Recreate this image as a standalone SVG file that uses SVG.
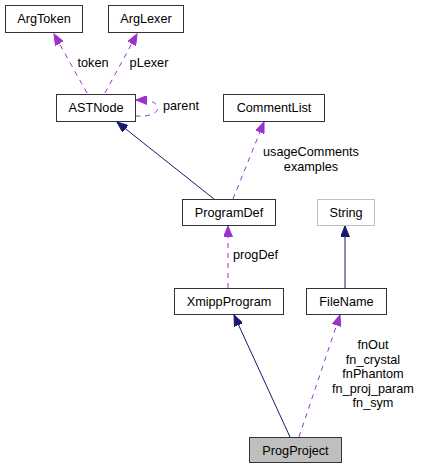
<svg xmlns="http://www.w3.org/2000/svg" width="421" height="468" viewBox="0 0 421 468">
<defs>
<style>
text{font-family:"Liberation Sans",Arial,sans-serif;font-size:12.7px;fill:#000}
.lbl{text-anchor:middle}
.box{fill:#fff;stroke:#333;stroke-width:1}
.dash{fill:none;stroke:#9a32cd;stroke-width:1;stroke-dasharray:5,5}
.inh{fill:none;stroke:#191970;stroke-width:1}
</style>
<marker id="ap" markerUnits="userSpaceOnUse" markerWidth="12" markerHeight="9" refX="11" refY="4.5" orient="auto" viewBox="0 0 12 9">
<path d="M0,0 L11,4.5 L0,9 z" fill="#9a32cd" stroke="#9a32cd"/>
</marker>
<marker id="ab" markerUnits="userSpaceOnUse" markerWidth="12" markerHeight="9" refX="11" refY="4.5" orient="auto" viewBox="0 0 12 9">
<path d="M0,0 L11,4.5 L0,9 z" fill="#191970" stroke="#191970"/>
</marker>
</defs>
<rect width="421" height="468" fill="#fff"/>
<g id="connectors">
<path class="dash" d="M87,93 L54,34" marker-end="url(#ap)"/>
<path class="dash" d="M105,93 L137,34" marker-end="url(#ap)"/>
<path class="dash" d="M135,116 C150,117 160,113 157,106 C155,101 148,100 136,100" marker-end="url(#ap)"/>
<path class="inh" d="M214,199 L117,122" marker-end="url(#ab)"/>
<path class="dash" d="M233,199 L264,122" marker-end="url(#ap)"/>
<path class="dash" d="M228,288 L228,226" marker-end="url(#ap)"/>
<path class="inh" d="M345,288 L345,226" marker-end="url(#ab)"/>
<path class="inh" d="M290,437 L234,315" marker-end="url(#ab)"/>
<path class="dash" d="M299,437 L340,315" marker-end="url(#ap)"/>
<text x="93" y="67" class="lbl">token</text>
<text x="149" y="67" class="lbl">pLexer</text>
<text x="163" y="110">parent</text>
<text x="311" y="156" class="lbl">usageComments</text>
<text x="311" y="171" class="lbl">examples</text>
<text x="233" y="259">progDef</text>
<text x="373" y="349" class="lbl">fnOut</text>
<text x="373" y="363.5" class="lbl">fn_crystal</text>
<text x="373" y="378" class="lbl">fnPhantom</text>
<text x="373" y="392.5" class="lbl">fn_proj_param</text>
<text x="373" y="407" class="lbl">fn_sym</text>
</g>
<g id="ArgToken"><rect class="box" x="5.5" y="5.5" width="77" height="27"/><text x="44" y="23" class="lbl">ArgToken</text></g>
<g id="ArgLexer"><rect class="box" x="108.5" y="5.5" width="75" height="27"/><text x="146" y="23" class="lbl">ArgLexer</text></g>
<g id="ASTNode"><rect class="box" x="56.5" y="94.5" width="79" height="27"/><text x="96" y="112" class="lbl">ASTNode</text></g>
<g id="CommentList"><rect class="box" x="223.5" y="94.5" width="101" height="27"/><text x="274" y="112" class="lbl">CommentList</text></g>
<g id="ProgramDef"><rect class="box" x="182.5" y="199.5" width="93" height="26"/><text x="229" y="217" class="lbl">ProgramDef</text></g>
<g id="String"><rect x="317.5" y="199.5" width="57" height="26" fill="#fff" stroke="#bfbfbf"/><text x="346" y="217" class="lbl">String</text></g>
<g id="XmippProgram"><rect class="box" x="174.5" y="288.5" width="109" height="26"/><text x="229" y="306" class="lbl">XmippProgram</text></g>
<g id="FileName"><rect class="box" x="306.5" y="288.5" width="80" height="26"/><text x="346.5" y="306" class="lbl">FileName</text></g>
<g id="ProgProject"><rect x="249.5" y="437.5" width="92" height="25" fill="#bfbfbf" stroke="#333"/><text x="295.5" y="454.5" class="lbl">ProgProject</text></g>
</svg>
